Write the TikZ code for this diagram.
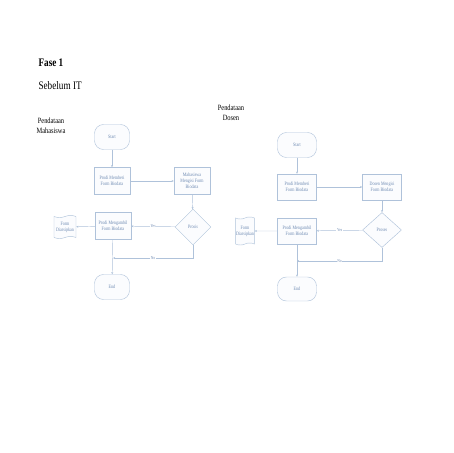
\documentclass[tikz,border=0pt]{standalone}
\usepackage{fontspec}
\setmainfont{Liberation Serif}[FakeStretch=0.8]
\usetikzlibrary{shapes.geometric,shapes.symbols,arrows.meta}
\definecolor{flowline}{HTML}{AFC2DA}
\definecolor{flowtext}{HTML}{6F8BB3}
\definecolor{flowfill}{HTML}{FBFCFE}
\begin{document}
\begin{tikzpicture}[x=1pt,y=-1pt,
  >={Stealth[length=2.2pt,width=2pt]},
  every node/.style={font=\fontsize{5.1}{6.2}\selectfont,text=flowtext,align=center},
  line/.style={draw=flowline,line width=0.45pt},
  terminal/.style={rectangle,rounded corners=9pt,line,fill=flowfill,minimum width=35pt,minimum height=25pt},
  process/.style={rectangle,line,fill=flowfill,minimum width=36pt,minimum height=27pt,inner sep=1pt},
  decision/.style={diamond,line,fill=flowfill,minimum width=36pt,minimum height=36pt,aspect=1,inner sep=0pt},
  archive/.style={tape,shape border rotate=90,line,fill=flowfill,minimum width=22pt,minimum height=23pt,inner sep=0.5pt,tape bend height=2pt},
  answer/.style={fill=white,inner sep=0.6pt,font=\fontsize{4.4}{5}\selectfont}]
\useasboundingbox (0,0) rectangle (453,453);
% titles
\node[anchor=west,text=black,font=\fontsize{11.5}{13}\selectfont\bfseries] (fase) at (35,63) {Fase 1};
\node[anchor=west,text=black,font=\fontsize{11.5}{13}\selectfont] (sebelum) at (35,86) {Sebelum IT};
\node[text=black,font=\fontsize{8}{10.5}\selectfont] (labelmhs) at (51,126) {Pendataan\\Mahasiswa};
\node[text=black,font=\fontsize{8}{10.5}\selectfont] (labeldsn) at (231,113) {Pendataan\\Dosen};

% Pendataan Mahasiswa
\node[terminal] (mstart) at (112,137) {Start};
\node[process] (mberi) at (112,181) {Prodi Memberi\\Form Biodata};
\draw[line,->] (mstart)--(mberi);
\node[process] (misi) at (192,181) {Mahasiswa\\Mengisi Form\\Biodata};
\draw[line,->] (mberi)--(misi);
\node[decision] (mproses) at (193,227) {Prosis};
\draw[line,->] (misi)--(mproses);
\node[process] (mambil) at (113,226) {Prodi Mengambil\\Form Biodata};
\draw[line,->] (mproses)--node[answer]{Yes}(mambil);
\node[archive] (marsip) at (65,227) {Form\\Diarsipkan};
\draw[line,->] (mambil)--(marsip);
\node[terminal] (mend) at (112,287) {End};
\draw[line,->] (mambil)--(mend);
\coordinate (mno) at (193,258);
\coordinate (mjoin) at (113,258);
\draw[line,->] (mproses.south)--(mno)--node[answer]{No}(mjoin);

% Pendataan Dosen
\node[terminal,minimum width=39pt] (dstart) at (297,145) {Start};
\node[process,minimum width=39pt,minimum height=26pt] (dberi) at (297,187) {Prodi Memberi\\Form Biodata};
\draw[line,->] (dstart)--(dberi);
\node[process,minimum width=39pt,minimum height=26pt] (disi) at (382,187) {Dosen Mengisi\\Form Biodata};
\draw[line,->] (dberi)--(disi);
\node[decision,minimum width=39pt,minimum height=35pt,aspect=1.1] (dproses) at (382,230) {Proses};
\draw[line,->] (disi)--(dproses);
\node[process,minimum width=39pt,minimum height=26pt] (dambil) at (297,231) {Prodi Mengambil\\Form Biodata};
\draw[line,->] (dproses)--node[answer]{Yes}(dambil);
\node[archive,minimum width=18pt,minimum height=28pt] (darsip) at (245,231) {Form\\Diarsipkan};
\draw[line,->] (dambil)--(darsip);
\node[terminal,minimum width=39pt,minimum height=24pt] (dend) at (297,289) {End};
\draw[line,->] (dambil)--(dend);
\coordinate (dno) at (382,261);
\coordinate (djoin) at (297,261);
\draw[line,->] (dproses.south)--(dno)--node[answer]{No}(djoin);
\end{tikzpicture}
\end{document}
